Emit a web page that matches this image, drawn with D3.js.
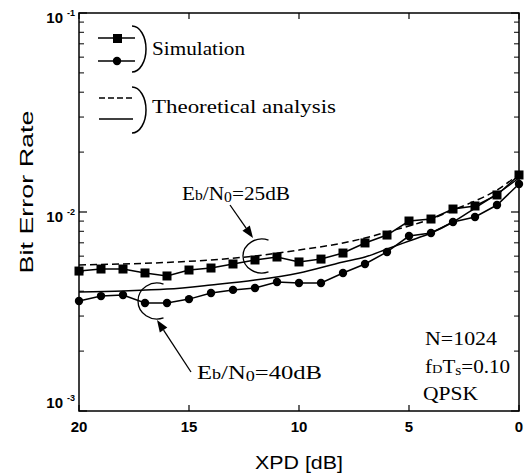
<!DOCTYPE html>
<html>
<head>
<meta charset="utf-8">
<script src="https://cdn.jsdelivr.net/npm/d3@7"></script>
<style>
  body { margin: 0; background: #fff; }
  svg { display: block; }
</style>
</head>
<body>
<svg width="528" height="476"></svg>
<script>
const svg = d3.select("svg");

// DATA
const xpdSim = [20, 19, 18, 17, 16, 15, 14, 13, 12, 11, 10, 9, 8, 7, 6, 5, 4, 3, 2, 1, 0];
const berSim25 = [0.00505, 0.00517, 0.00517, 0.00494, 0.00477, 0.00511, 0.00523, 0.00548, 0.00574, 0.00594, 0.00561,
  0.00580, 0.00622, 0.00699, 0.00766, 0.00901, 0.00922, 0.01035, 0.01072, 0.01218, 0.01535];
const berSim40 = [0.00357, 0.00378, 0.00383, 0.00349, 0.00349, 0.00365, 0.00392, 0.00406, 0.00415, 0.00445, 0.00440,
  0.00440, 0.00494, 0.00548, 0.00630, 0.00757, 0.00784, 0.00891, 0.00944, 0.01084, 0.01383];
const xpdTheory = [20, 18, 16, 14, 12, 10, 8, 7, 6, 5, 4, 3, 2, 1, 0];
const berTheory25 = [0.00542, 0.00548, 0.00558, 0.00574, 0.00601, 0.00644, 0.00699, 0.00740, 0.00793, 0.00850,
  0.00922, 0.01023, 0.01136, 0.01290, 0.01552];
const berTheory40 = [0.00396, 0.00401, 0.00410, 0.00430, 0.00455, 0.00494, 0.00561, 0.00594, 0.00652, 0.00715,
  0.00784, 0.00891, 0.01047, 0.01232, 0.01482];
const xTicks = [20, 15, 10, 5, 0];
const yMajor = [1e-1, 1e-2, 1e-3];
const yExpLabels = ["-1", "-2", "-3"];

// SCALES
const x = d3.scaleLinear().domain([20, 0]).range([79, 519]);
const y = d3.scaleLog().domain([1e-3, 1e-1]).range([411, 13]);

const serif = "'Liberation Serif', 'Times New Roman', serif";
const sans = "'Liberation Sans', Arial, sans-serif";

// FRAME
svg.append("rect")
  .attr("x", x(20)).attr("y", y(1e-1))
  .attr("width", x(0) - x(20)).attr("height", y(1e-3) - y(1e-1))
  .attr("fill", "none").attr("stroke", "#000").attr("stroke-width", 1.5);

// Y TICKS (inside, both sides)
const minor = [];
[1e-3, 1e-2].forEach(d => { for (let k = 2; k <= 9; k++) minor.push(d * k); });
[[x(20), 1], [x(0), -1]].forEach(([x0, dir]) => {
  svg.append("g").selectAll("line.min").data(minor).enter().append("line")
    .attr("x1", x0).attr("x2", x0 + dir * 5)
    .attr("y1", d => y(d)).attr("y2", d => y(d))
    .attr("stroke", "#000").attr("stroke-width", 1);
  svg.append("g").selectAll("line.maj").data(yMajor).enter().append("line")
    .attr("x1", x0).attr("x2", x0 + dir * 8)
    .attr("y1", d => y(d)).attr("y2", d => y(d))
    .attr("stroke", "#000").attr("stroke-width", 1.2);
});

// X TICKS (inside, bottom and top)
[[y(1e-3), -1], [y(1e-1), 1]].forEach(([y0, dir]) => {
  svg.append("g").selectAll("line").data(xTicks).enter().append("line")
    .attr("x1", d => x(d)).attr("x2", d => x(d))
    .attr("y1", y0).attr("y2", y0 + dir * 6)
    .attr("stroke", "#000").attr("stroke-width", 1.2);
});

// TICK LABELS
svg.append("g").selectAll("text").data(xTicks).enter().append("text")
  .attr("x", d => x(d)).attr("y", 432)
  .attr("text-anchor", "middle")
  .attr("font-family", sans).attr("font-weight", "bold").attr("font-size", "15px")
  .text(d => d);

const yOff = [10, 10, -3];
svg.append("g").selectAll("text").data(yMajor).enter().append("text")
  .attr("x", 63).attr("y", (d, i) => y(d) + yOff[i])
  .attr("text-anchor", "end")
  .attr("font-family", sans).attr("font-weight", "bold").attr("font-size", "15px")
  .text("10");
svg.append("g").selectAll("text").data(yMajor).enter().append("text")
  .attr("x", 67).attr("y", (d, i) => y(d) + yOff[i] - 7)
  .attr("font-family", sans).attr("font-weight", "bold").attr("font-size", "9px")
  .text((d, i) => yExpLabels[i]);

// AXIS TITLES
svg.append("text")
  .attr("x", 299).attr("y", 469)
  .attr("text-anchor", "middle")
  .attr("font-family", sans).attr("font-size", "19px")
  .attr("textLength", 88).attr("lengthAdjust", "spacingAndGlyphs")
  .text("XPD [dB]");

svg.append("text")
  .attr("transform", "translate(33,192) rotate(-90)")
  .attr("text-anchor", "middle")
  .attr("font-family", sans).attr("font-size", "19px")
  .attr("textLength", 163).attr("lengthAdjust", "spacingAndGlyphs")
  .text("Bit Error Rate");

// CURVES
const simLine = d3.line().x(d => x(d[0])).y(d => y(d[1]));
const theoryLine = d3.line().x(d => x(d[0])).y(d => y(d[1])).curve(d3.curveMonotoneX);

const t25 = xpdTheory.map((v, i) => [v, berTheory25[i]]);
const t40 = xpdTheory.map((v, i) => [v, berTheory40[i]]);
const s25 = xpdSim.map((v, i) => [v, berSim25[i]]);
const s40 = xpdSim.map((v, i) => [v, berSim40[i]]);

svg.append("path").attr("d", theoryLine(t25))
  .attr("fill", "none").attr("stroke", "#000").attr("stroke-width", 1.5)
  .attr("stroke-dasharray", "7,4");
svg.append("path").attr("d", theoryLine(t40))
  .attr("fill", "none").attr("stroke", "#000").attr("stroke-width", 1.5);
svg.append("path").attr("d", simLine(s25))
  .attr("fill", "none").attr("stroke", "#000").attr("stroke-width", 1.5);
svg.append("path").attr("d", simLine(s40))
  .attr("fill", "none").attr("stroke", "#000").attr("stroke-width", 1.5);

svg.append("g").selectAll("rect").data(s25).enter().append("rect")
  .attr("x", d => x(d[0]) - 4.5).attr("y", d => y(d[1]) - 4.5)
  .attr("width", 9).attr("height", 9).attr("fill", "#000");
svg.append("g").selectAll("circle").data(s40).enter().append("circle")
  .attr("cx", d => x(d[0])).attr("cy", d => y(d[1]))
  .attr("r", 4.2).attr("fill", "#000");

// LEGEND
const lg = svg.append("g");
lg.append("line").attr("x1", 98).attr("x2", 135).attr("y1", 38).attr("y2", 38).attr("stroke", "#000").attr("stroke-width", 1.5);
lg.append("rect").attr("x", 113).attr("y", 34).attr("width", 9).attr("height", 9).attr("fill", "#000");
lg.append("line").attr("x1", 98).attr("x2", 135).attr("y1", 61).attr("y2", 61).attr("stroke", "#000").attr("stroke-width", 1.5);
lg.append("circle").attr("cx", 117).attr("cy", 61).attr("r", 4.2).attr("fill", "#000");
lg.append("line").attr("x1", 99).attr("x2", 133).attr("y1", 98).attr("y2", 98).attr("stroke", "#000").attr("stroke-width", 1.5).attr("stroke-dasharray", "6,3");
lg.append("line").attr("x1", 99).attr("x2", 133).attr("y1", 119).attr("y2", 119).attr("stroke", "#000").attr("stroke-width", 1.5);
lg.append("path").attr("d", "M132,26 A14 23 0 0 1 132,72").attr("fill", "none").attr("stroke", "#000").attr("stroke-width", 1.5);
lg.append("path").attr("d", "M132,87 A14 23 0 0 1 132,133").attr("fill", "none").attr("stroke", "#000").attr("stroke-width", 1.5);
lg.append("text").attr("x", 152).attr("y", 55).attr("font-family", serif).attr("font-size", "19px")
  .attr("textLength", 93).attr("lengthAdjust", "spacingAndGlyphs").text("Simulation");
lg.append("text").attr("x", 152).attr("y", 113).attr("font-family", serif).attr("font-size", "19px")
  .attr("textLength", 184).attr("lengthAdjust", "spacingAndGlyphs").text("Theoretical analysis");

// ANNOTATIONS
function ellArc(cx, cy, rx, ry) {
  const a = 70 * Math.PI / 180;
  const x1 = cx + rx * Math.cos(-a), y1 = cy + ry * Math.sin(-a);
  const x2 = cx + rx * Math.cos(a), y2 = cy + ry * Math.sin(a);
  return `M${x1},${y1} A${rx} ${ry} 0 1 0 ${x2},${y2}`;
}
function arrow(x1, y1, x2, y2) {
  const ang = Math.atan2(y2 - y1, x2 - x1);
  const L = 12, W = 4.5;
  const bx = x2 - L * Math.cos(ang), by = y2 - L * Math.sin(ang);
  svg.append("line").attr("x1", x1).attr("y1", y1).attr("x2", bx).attr("y2", by)
    .attr("stroke", "#000").attr("stroke-width", 1.3);
  svg.append("path")
    .attr("d", `M${x2},${y2} L${bx - W * Math.sin(ang)},${by + W * Math.cos(ang)} L${bx + W * Math.sin(ang)},${by - W * Math.cos(ang)} Z`)
    .attr("fill", "#000");
}

svg.append("path").attr("d", ellArc(262, 256, 19, 17)).attr("fill", "none").attr("stroke", "#000").attr("stroke-width", 1.3);
svg.append("path").attr("d", ellArc(157, 301, 19, 18)).attr("fill", "none").attr("stroke", "#000").attr("stroke-width", 1.3);
arrow(230, 205, 253, 238);
arrow(191, 372, 157, 320);

function ebLabel(xp, yp, val, len) {
  const t = svg.append("text").attr("x", xp).attr("y", yp)
    .attr("font-family", serif).attr("font-size", "19px")
    .attr("textLength", len).attr("lengthAdjust", "spacingAndGlyphs");
  t.append("tspan").text("E");
  t.append("tspan").attr("font-size", "14px").text("b");
  t.append("tspan").text("/N");
  t.append("tspan").attr("font-size", "14px").attr("dy", 2).text("0");
  t.append("tspan").attr("dy", -2).text("=" + val + "dB");
}
ebLabel(182, 200, 25, 108);
ebLabel(197, 379, 40, 125);

// PARAMETERS
const pg = svg.append("g").attr("font-family", serif).attr("font-size", "19px");
pg.append("text").attr("x", 425).attr("y", 345).attr("textLength", 72).attr("lengthAdjust", "spacingAndGlyphs").text("N=1024");
const fd = pg.append("text").attr("x", 425).attr("y", 373).attr("textLength", 85).attr("lengthAdjust", "spacingAndGlyphs");
fd.append("tspan").text("f");
fd.append("tspan").attr("font-size", "13px").text("D");
fd.append("tspan").text("T");
fd.append("tspan").attr("font-size", "14px").attr("dy", 2).text("s");
fd.append("tspan").attr("dy", -2).text("=0.10");
pg.append("text").attr("x", 423).attr("y", 400).attr("textLength", 55).attr("lengthAdjust", "spacingAndGlyphs").text("QPSK");
</script>
</body>
</html>
